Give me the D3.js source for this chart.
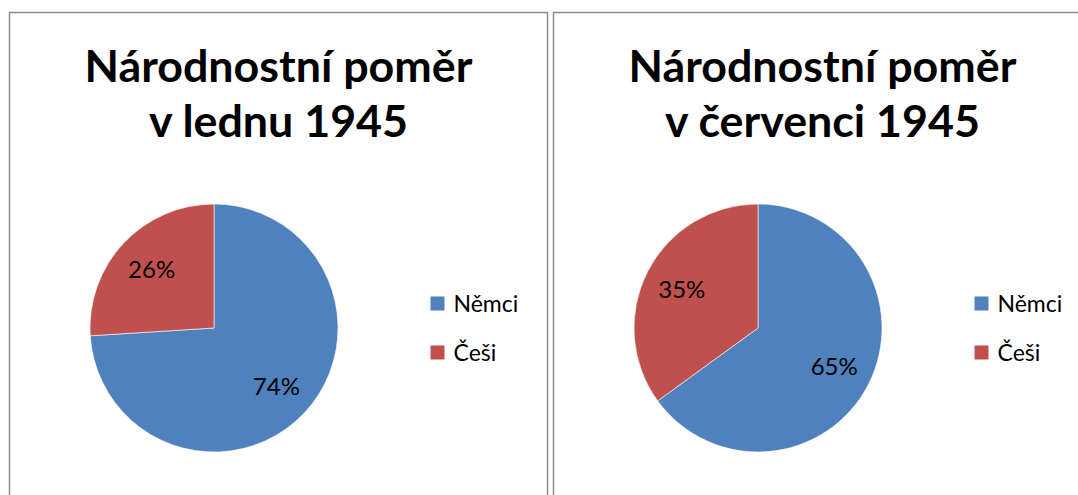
<!DOCTYPE html>
<html>
<head>
<meta charset="utf-8">
<script src="https://cdn.jsdelivr.net/npm/d3@7"></script>
<style>
  html, body { margin: 0; padding: 0; background: #fff; overflow: hidden; }
  svg { display: block; }
  text { font-family: Lato, "Open Sans", sans-serif; fill: #000; }
</style>
</head>
<body>
<div id="plot"></div>
<script>
// data
const groups = ["Němci", "Češi"];
const colors = ["#4F81BD", "#C0504D"];
const january = [74, 26];
const july = [65, 35];
const titleLine1 = "Národnostní poměr";
const titleJanuary = "v lednu 1945";
const titleJuly = "v červenci 1945";

const width = 1078, height = 495;

const svg = d3.select("#plot")
    .append("svg")
    .attr("width", width)
    .attr("height", height);

// panel geometry (both panels laid out the same way)
const panelW = 538;
const pieR = 124;
const pieX = 204.5, pieY = 315.5;

const pie = d3.pie().sort(null).value(d => d.value);
const arc = d3.arc().innerRadius(0).outerRadius(pieR);
const labelArc = d3.arc().innerRadius(pieR * 0.69).outerRadius(pieR * 0.69);

// shrink/grow a text so it has the given width
function fitWidth(sel, target) {
    const node = sel.node();
    const fs = parseFloat(sel.attr("font-size"));
    const w = node.getComputedTextLength();
    sel.attr("font-size", fs * target / w);
    return fs * target / w;
}

function drawPanel(x0, values, line2) {
    const g = svg.append("g")
        .attr("transform", "translate(" + x0 + ",12.5)");

    // frame: left, top, right edges (bottom is cut off by the picture)
    g.append("path")
        .attr("d", "M0," + (height + 10) + "V0H" + panelW + "V" + (height + 10))
        .attr("fill", "none")
        .attr("stroke", "#8a8a8a")
        .attr("stroke-width", 1.5);

    // title
    const t1 = g.append("text")
        .attr("x", panelW / 2)
        .attr("y", 69.5)
        .attr("text-anchor", "middle")
        .attr("font-weight", "bold")
        .attr("font-size", 44)
        .text(titleLine1);
    const fs = fitWidth(t1, 388);
    g.append("text")
        .attr("x", panelW / 2)
        .attr("y", 124.5)
        .attr("text-anchor", "middle")
        .attr("font-weight", "bold")
        .attr("font-size", fs)
        .text(line2);

    // pie
    const data = groups.map((k, i) => ({key: k, value: values[i], color: colors[i]}));
    const pg = g.append("g")
        .attr("transform", "translate(" + pieX + "," + pieY + ")");

    pg.selectAll("path")
        .data(pie(data))
        .enter()
        .append("path")
        .attr("d", arc)
        .attr("fill", d => d.data.color)
        .attr("stroke", "#fff")
        .attr("stroke-width", 0.6);

    pg.selectAll("text.lbl")
        .data(pie(data))
        .enter()
        .append("text")
        .attr("class", "lbl")
        .attr("transform", d => "translate(" + labelArc.centroid(d) + ")")
        .attr("text-anchor", "middle")
        .attr("dy", "0.36em")
        .attr("font-size", 24)
        .text(d => d.data.value + "%");

    // legend
    const lg = g.append("g")
        .attr("transform", "translate(421,284)");
    const item = lg.selectAll("g")
        .data(data)
        .enter()
        .append("g")
        .attr("transform", (d, i) => "translate(0," + (i * 49) + ")");
    item.append("rect")
        .attr("x", 0)
        .attr("y", 0)
        .attr("width", 14)
        .attr("height", 14)
        .attr("fill", d => d.color);
    item.append("text")
        .attr("x", 23)
        .attr("y", 15)
        .attr("font-size", 23)
        .text(d => d.key);
}

drawPanel(9.5, january, titleJanuary);
drawPanel(553.5, july, titleJuly);
</script>
</body>
</html>
